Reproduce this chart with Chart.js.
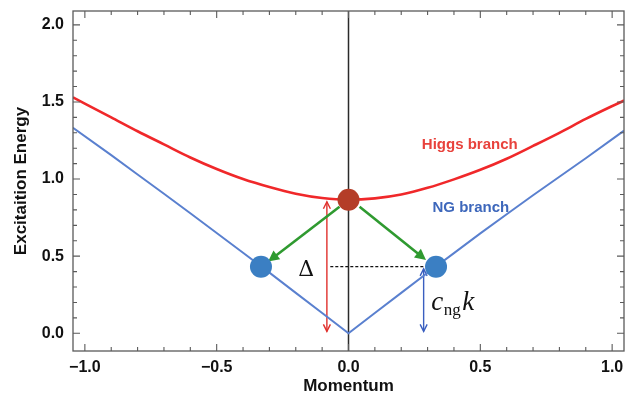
<!DOCTYPE html>
<html>
<head>
<meta charset="utf-8">
<script src="https://cdn.jsdelivr.net/npm/chart.js@4/dist/chart.umd.min.js"></script>
<style>
  html, body { margin: 0; padding: 0; background: #fff; }
  canvas { display: block; }
</style>
</head>
<body>
<canvas id="chart" width="625" height="410"></canvas>
<script>
// Higgs (amplitude) branch of the dispersion
const higgsMomentum = [-1.045, -0.9, -0.8, -0.7, -0.6, -0.5, -0.4, -0.3, -0.2, -0.1, 0, 0.1, 0.2, 0.3, 0.4, 0.5, 0.6, 0.7, 0.8, 0.9, 1.045];
const higgsEnergy   = [1.53, 1.40, 1.31, 1.225, 1.14, 1.065, 1.00, 0.948, 0.905, 0.877, 0.866, 0.875, 0.90, 0.943, 0.998, 1.06, 1.132, 1.215, 1.30, 1.39, 1.51];

// Nambu-Goldstone branch
const ngMomentum = [-1.045, -0.9, -0.8, -0.7, -0.6, -0.5, -0.4, -0.3, -0.2, -0.1, 0, 0.1, 0.2, 0.3, 0.4, 0.5, 0.6, 0.7, 0.8, 0.9, 1.045];
const ngEnergy   = [1.333, 1.155, 1.03, 0.905, 0.778, 0.65, 0.522, 0.393, 0.262, 0.131, 0.0, 0.131, 0.262, 0.393, 0.52, 0.648, 0.772, 0.895, 1.015, 1.135, 1.314];

// Marked states: Higgs mode at rest, two NG modes it decays into
const higgsStateMomentum = [0];
const higgsStateEnergy = [0.866];
const ngStateMomentum = [-0.332, 0.332];
const ngStateEnergy = [0.432, 0.432];

// Axis ticks
const xTickValues = [-1, -0.5, 0, 0.5, 1];
const xTickLabels = ['\u22121.0', '\u22120.5', '0.0', '0.5', '1.0'];
const yTickValues = [0, 0.5, 1, 1.5, 2];
const yTickLabels = ['0.0', '0.5', '1.0', '1.5', '2.0'];

const toPoints = (xs, ys) => xs.map((x, i) => ({ x: x, y: ys[i] }));

// Placement of arrows and math labels in axis units
const overlay = {
  gapArrow:   { x: -0.082, y1: 0.853, y2: 0.012 },
  ngArrow:    { x: 0.285, y1: 0.418, y2: 0.012 },
  gapLevel:   { x1: -0.069, x2: 0.29, y: 0.432 },
  decayLeft:  { x1: -0.034, y1: 0.82, x2: -0.305, y2: 0.465 },
  decayRight: { x1: 0.042, y1: 0.82, x2: 0.294, y2: 0.475 },
  deltaLabel: { x: -0.16, y: 0.41 },
  cngLabel:   { x: 0.314, y: 0.152 },
  higgsLabel: { x: 0.46, y: 1.221 },
  ngLabel:    { x: 0.464, y: 0.813 }
};

const SANS = "'Liberation Sans', Arial, sans-serif";
const SERIF = "'DejaVu Serif', 'Liberation Serif', serif";
const SERIF_ITALIC = "'Liberation Serif', 'DejaVu Serif', serif";

function drawArrowHead(ctx, x1, y1, x2, y2, len, half, filled) {
  const a = Math.atan2(y2 - y1, x2 - x1);
  const bx = x2 - len * Math.cos(a), by = y2 - len * Math.sin(a);
  const px = -Math.sin(a) * half, py = Math.cos(a) * half;
  ctx.beginPath();
  if (filled) {
    ctx.moveTo(x2, y2);
    ctx.lineTo(bx + px, by + py);
    ctx.lineTo(bx - px, by - py);
    ctx.closePath();
    ctx.fill();
  } else {
    ctx.moveTo(bx + px, by + py);
    ctx.lineTo(x2, y2);
    ctx.lineTo(bx - px, by - py);
    ctx.stroke();
  }
}

const decorations = {
  id: 'decorations',
  beforeDatasetsDraw(chart) {
    const { ctx, chartArea: ca, scales: { x, y } } = chart;
    ctx.save();
    // vertical line at zero momentum
    ctx.strokeStyle = '#2a2a2a';
    ctx.lineWidth = 1.5;
    ctx.beginPath();
    ctx.moveTo(x.getPixelForValue(0), ca.top);
    ctx.lineTo(x.getPixelForValue(0), ca.bottom);
    ctx.stroke();

    // dashed level of the NG states
    const g = overlay.gapLevel;
    ctx.setLineDash([3, 2]);
    ctx.lineWidth = 1.3;
    ctx.strokeStyle = '#111';
    ctx.beginPath();
    ctx.moveTo(x.getPixelForValue(g.x1), y.getPixelForValue(g.y));
    ctx.lineTo(x.getPixelForValue(g.x2), y.getPixelForValue(g.y));
    ctx.stroke();
    ctx.setLineDash([]);

    // double-headed vertical arrows
    const vArrow = (spec, color) => {
      const px = x.getPixelForValue(spec.x);
      const top = y.getPixelForValue(spec.y1), bot = y.getPixelForValue(spec.y2);
      ctx.strokeStyle = color;
      ctx.lineWidth = 1.4;
      ctx.beginPath();
      ctx.moveTo(px, top);
      ctx.lineTo(px, bot);
      ctx.stroke();
      drawArrowHead(ctx, px, bot, px, top, 7, 3.5, false);
      drawArrowHead(ctx, px, top, px, bot, 7, 3.5, false);
    };
    vArrow(overlay.gapArrow, '#e0302c');
    vArrow(overlay.ngArrow, '#3a5fc0');

    // green decay arrows
    const dArrow = (s) => {
      const x1 = x.getPixelForValue(s.x1), y1 = y.getPixelForValue(s.y1);
      const x2 = x.getPixelForValue(s.x2), y2 = y.getPixelForValue(s.y2);
      const a = Math.atan2(y2 - y1, x2 - x1);
      ctx.strokeStyle = '#2f9a30';
      ctx.fillStyle = '#2f9a30';
      ctx.lineWidth = 2.6;
      ctx.beginPath();
      ctx.moveTo(x1, y1);
      ctx.lineTo(x2 - 8 * Math.cos(a), y2 - 8 * Math.sin(a));
      ctx.stroke();
      drawArrowHead(ctx, x1, y1, x2, y2, 11, 5.5, true);
    };
    dArrow(overlay.decayLeft);
    dArrow(overlay.decayRight);
    ctx.restore();
  },
  afterDatasetsDraw(chart) {
    const { ctx, chartArea: ca, scales: { x, y } } = chart;
    ctx.save();
    // frame
    ctx.strokeStyle = '#5a5a5a';
    ctx.lineWidth = 1.3;
    ctx.strokeRect(ca.left, ca.top, ca.right - ca.left, ca.bottom - ca.top);

    // inward tick marks on all four sides
    ctx.lineWidth = 1.1;
    ctx.strokeStyle = '#5a5a5a';
    ctx.beginPath();
    for (let i = -10; i <= 10; i++) {
      const v = i / 10;
      const px = x.getPixelForValue(v);
      const len = (i % 5 === 0) ? 7 : 4;
      ctx.moveTo(px, ca.bottom); ctx.lineTo(px, ca.bottom - len);
      ctx.moveTo(px, ca.top); ctx.lineTo(px, ca.top + len);
    }
    for (let i = 0; i <= 20; i++) {
      const v = i / 10;
      const py = y.getPixelForValue(v);
      const len = (i % 5 === 0) ? 7 : 4;
      ctx.moveTo(ca.left, py); ctx.lineTo(ca.left + len, py);
      ctx.moveTo(ca.right, py); ctx.lineTo(ca.right - len, py);
    }
    ctx.stroke();

    // branch names
    ctx.textAlign = 'center';
    ctx.textBaseline = 'middle';
    ctx.font = 'bold 15px ' + SANS;
    ctx.fillStyle = '#e8423c';
    ctx.fillText('Higgs branch', x.getPixelForValue(overlay.higgsLabel.x), y.getPixelForValue(overlay.higgsLabel.y));
    ctx.fillStyle = '#3d67bb';
    ctx.fillText('NG branch', x.getPixelForValue(overlay.ngLabel.x), y.getPixelForValue(overlay.ngLabel.y));

    // gap symbol
    ctx.fillStyle = '#111';
    ctx.font = '22px ' + SERIF;
    ctx.fillText('\u0394', x.getPixelForValue(overlay.deltaLabel.x), y.getPixelForValue(overlay.deltaLabel.y));

    // c_ng k
    ctx.textAlign = 'left';
    ctx.textBaseline = 'alphabetic';
    let cx = x.getPixelForValue(overlay.cngLabel.x);
    const cy = y.getPixelForValue(overlay.cngLabel.y);
    ctx.font = 'italic 27px ' + SERIF_ITALIC;
    ctx.fillText('c', cx, cy);
    cx += ctx.measureText('c').width + 0.5;
    ctx.font = '17px ' + SERIF_ITALIC;
    ctx.fillText('ng', cx, cy + 5);
    cx += ctx.measureText('ng').width + 1.5;
    ctx.font = 'italic 27px ' + SERIF_ITALIC;
    ctx.fillText('k', cx, cy);
    ctx.restore();
  }
};

const tickFont = { family: SANS, weight: 'bold', size: 16 };
const titleFont = { family: SANS, weight: 'bold', size: 17, lineHeight: 1.2 };

new Chart(document.getElementById('chart'), {
  type: 'scatter',
  data: {
    datasets: [
      {
        label: 'Higgs state',
        data: toPoints(higgsStateMomentum, higgsStateEnergy),
        pointRadius: 11,
        pointBackgroundColor: '#b43d28',
        pointBorderWidth: 0,
        showLine: false,
        order: 0
      },
      {
        label: 'NG states',
        data: toPoints(ngStateMomentum, ngStateEnergy),
        pointRadius: 11,
        pointBackgroundColor: '#3b7fc3',
        pointBorderWidth: 0,
        showLine: false,
        order: 0
      },
      {
        label: 'Higgs branch',
        data: toPoints(higgsMomentum, higgsEnergy),
        showLine: true,
        borderColor: '#f0282a',
        borderWidth: 2.6,
        pointRadius: 0,
        cubicInterpolationMode: 'monotone',
        order: 1
      },
      {
        label: 'NG branch',
        data: toPoints(ngMomentum, ngEnergy),
        showLine: true,
        borderColor: '#5a80cf',
        borderWidth: 2,
        pointRadius: 0,
        tension: 0,
        order: 2
      }
    ]
  },
  options: {
    responsive: false,
    animation: false,
    layout: { autoPadding: false, padding: { top: 11, right: 1, left: 0, bottom: 0 } },
    plugins: { legend: { display: false }, tooltip: { enabled: false } },
    scales: {
      x: {
        type: 'linear',
        min: -1.045,
        max: 1.045,
        afterBuildTicks: (s) => { s.ticks = xTickValues.map(v => ({ value: v })); },
        afterFit: (s) => { s.height = 59; s.paddingLeft = 0; s.paddingRight = 0; },
        grid: { display: false, drawTicks: false },
        border: { display: false },
        ticks: {
          padding: 7,
          autoSkip: false,
          maxRotation: 0,
          color: '#111',
          font: tickFont,
          callback: (v, i) => xTickLabels[i]
        },
        title: { display: true, text: 'Momentum', color: '#111', font: titleFont, padding: { top: 0, bottom: 13 } }
      },
      y: {
        type: 'linear',
        min: -0.115,
        max: 2.09,
        afterBuildTicks: (s) => { s.ticks = yTickValues.map(v => ({ value: v })); },
        afterFit: (s) => { s.width = 73; s.paddingTop = 0; s.paddingBottom = 0; },
        grid: { display: false, drawTicks: false },
        border: { display: false },
        ticks: {
          padding: 9,
          autoSkip: false,
          color: '#111',
          font: tickFont,
          callback: (v, i) => yTickLabels[i]
        },
        title: { display: true, text: 'Excitaition Energy', color: '#111', font: titleFont, padding: { top: 11, bottom: 0 } }
      }
    }
  },
  plugins: [decorations]
});
</script>
</body>
</html>
